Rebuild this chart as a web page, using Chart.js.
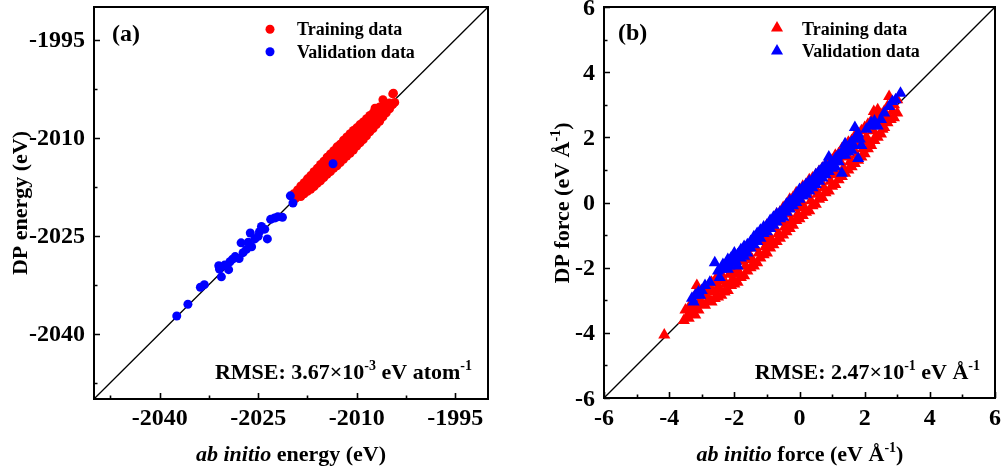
<!DOCTYPE html>
<html><head><meta charset="utf-8">
<script src="https://cdn.jsdelivr.net/npm/chart.js@4/dist/chart.umd.min.js"></script>
<style>
body{margin:0;background:#fff;width:1002px;height:474px;overflow:hidden;position:relative}
canvas{position:absolute;top:0}
#c1{left:0}
#c2{left:500px}
</style></head><body>
<canvas id="c1" width="500" height="474"></canvas>
<canvas id="c2" width="502" height="474"></canvas>
<script>
// ---------- data ----------
const energyRange = [-2050, -1990];
const energyTicks = [-2040, -2025, -2010, -1995];
const energyMinorTicks = [-2047.5, -2032.5, -2017.5, -2002.5];
const forceRange = [-6, 6];
const forceTicks = [-6, -4, -2, 0, 2, 4, 6];
const forceMinorTicks = [-5, -3, -1, 1, 3, 5];
const seriesNames = ['Training data', 'Validation data'];

// [ab initio energy, DP energy] (eV)
const energyTraining = [
[-2019.6,-2018.6],[-2019.5,-2018.7],[-2019.5,-2019.4],[-2019.3,-2019.3],[-2019.0,-2018.0],[-2019.0,-2018.9],
[-2018.5,-2017.4],[-2018.5,-2018.3],[-2018.5,-2019.0],[-2018.0,-2016.9],[-2018.0,-2017.9],[-2018.0,-2018.6],
[-2017.5,-2016.3],[-2017.5,-2017.4],[-2017.5,-2018.2],[-2017.0,-2015.8],[-2017.0,-2016.9],[-2017.0,-2017.9],
[-2016.5,-2015.2],[-2016.5,-2016.4],[-2016.5,-2017.5],[-2016.0,-2014.7],[-2016.0,-2015.9],[-2016.0,-2017.0],
[-2015.5,-2014.1],[-2015.5,-2015.4],[-2015.5,-2016.6],[-2015.0,-2013.6],[-2015.0,-2014.8],[-2015.0,-2016.1],
[-2014.5,-2013.0],[-2014.5,-2014.4],[-2014.5,-2015.6],[-2014.0,-2012.5],[-2014.0,-2013.8],[-2014.0,-2015.2],
[-2013.5,-2012.0],[-2013.5,-2013.4],[-2013.5,-2014.7],[-2013.0,-2011.4],[-2013.0,-2012.9],[-2013.0,-2014.3],
[-2012.5,-2011.0],[-2012.5,-2012.4],[-2012.5,-2013.8],[-2012.0,-2010.4],[-2012.0,-2011.8],[-2012.0,-2013.3],
[-2011.5,-2009.9],[-2011.5,-2011.4],[-2011.5,-2012.8],[-2011.0,-2009.4],[-2011.0,-2010.9],[-2011.0,-2012.4],
[-2010.5,-2008.9],[-2010.5,-2010.4],[-2010.5,-2011.9],[-2010.0,-2008.5],[-2010.0,-2009.9],[-2010.0,-2011.3],
[-2009.5,-2008.0],[-2009.5,-2009.4],[-2009.5,-2010.8],[-2009.0,-2007.6],[-2009.0,-2008.9],[-2009.0,-2010.3],
[-2008.5,-2007.1],[-2008.5,-2008.4],[-2008.5,-2009.7],[-2008.0,-2006.6],[-2008.0,-2007.9],[-2008.0,-2009.1],
[-2007.5,-2006.2],[-2007.5,-2007.4],[-2007.5,-2008.6],[-2007.2,-2005.5],[-2007.0,-2005.6],[-2007.0,-2006.9],
[-2007.0,-2008.0],[-2006.5,-2005.3],[-2006.5,-2006.5],[-2006.5,-2007.5],[-2006.0,-2004.2],[-2006.0,-2005.8],
[-2006.0,-2006.8],[-2005.5,-2005.0],[-2005.5,-2006.2],[-2005.0,-2004.7],[-2005.0,-2005.6],[-2004.7,-2005.0],
[-2004.5,-2003.3],[-2004.4,-2003.2],[-2004.5,-2004.9],[-2004.2,-2004.6],
[-2016.4,-2016.7],[-2014.8,-2015.7],[-2013.3,-2013.1],[-2011.8,-2012.1],[-2010.0,-2010.1],[-2008.0,-2008.5]
];
const energyValidation = [
[-2037.4,-2037.3],[-2035.7,-2035.5],[-2033.8,-2032.9],[-2033.2,-2032.5],[-2031.0,-2029.6],[-2030.9,-2030.1],[-2030.6,-2031.3],
[-2030.1,-2029.5],[-2029.5,-2030.2],[-2029.3,-2029.0],[-2028.9,-2028.6],[-2028.5,-2028.2],[-2027.9,-2028.5],[-2027.6,-2026.1],
[-2027.3,-2027.6],[-2026.8,-2027.1],[-2026.5,-2026.0],[-2026.2,-2024.6],[-2026.0,-2026.7],[-2025.5,-2025.5],[-2025.0,-2025.1],
[-2024.8,-2024.4],[-2024.5,-2023.6],[-2024.0,-2024.0],[-2023.6,-2025.5],[-2023.1,-2022.5],[-2022.5,-2022.3],[-2022.0,-2022.1],
[-2021.3,-2022.2],[-2020.1,-2018.9],[-2019.7,-2020.0],[-2013.6,-2014.0]
];

// [ab initio force, DP force] (eV/Å)
const forceTraining = [
[-4.15,-4.07],[-3.55,-3.62],[-3.50,-3.30],[-3.40,-3.55],[-3.40,-3.25],[-3.30,-3.40],[-3.30,-3.05],[-3.20,-3.45],[-3.20,-2.85],
[-3.15,-2.55],[-3.10,-3.30],[-3.10,-2.70],[-3.00,-3.10],[-3.00,-2.85],[-2.90,-3.15],[-2.90,-2.70],[-2.80,-3.00],[-2.80,-2.55],
[-2.70,-3.05],[-2.70,-2.45],[-2.60,-2.95],[-2.60,-2.40],[-2.50,-2.90],[-2.50,-2.60],[-2.50,-2.25],[-2.40,-2.85],[-2.40,-2.20],
[-2.30,-2.75],[-2.30,-2.05],[-2.20,-2.70],[-2.20,-1.95],[-2.10,-2.55],[-2.10,-1.85],[-2.00,-2.50],[-2.00,-2.20],[-2.00,-1.80],
[-1.90,-2.45],[-1.90,-1.65],[-1.80,-2.30],[-1.80,-1.55],[-1.70,-2.25],[-1.70,-1.45],[-1.60,-2.10],[-1.60,-1.40],[-1.50,-2.00],
[-1.50,-1.70],[-1.50,-1.25],[-1.40,-1.95],[-1.40,-1.10],[-1.30,-1.85],[-1.30,-1.05],[-1.20,-1.70],[-1.20,-0.90],[-1.10,-1.60],
[-1.10,-0.85],[-1.00,-1.55],[-1.00,-1.20],[-1.00,-0.70],[-0.90,-1.40],[-0.90,-0.60],[-0.80,-1.30],[-0.80,-0.50],[-0.70,-1.20],
[-0.70,-0.35],[-0.60,-1.10],[-0.60,-0.30],[-0.50,-1.00],[-0.50,-0.60],[-0.50,-0.15],[-0.40,-0.90],[-0.40,-0.05],[-0.30,-0.80],
[-0.30,0.10],[-0.20,-0.70],[-0.20,0.15],[-0.10,-0.55],[-0.10,0.30],[0.00,-0.50],[0.00,-0.10],[0.00,0.35],[0.10,-0.40],
[0.10,0.50],[0.20,-0.30],[0.20,0.55],[0.30,-0.25],[0.30,0.70],[0.40,-0.10],[0.40,0.75],[0.50,-0.05],[0.50,0.40],[0.50,0.85],
[0.60,0.10],[0.60,0.95],[0.70,0.15],[0.70,1.05],[0.80,0.30],[0.80,1.15],[0.90,0.35],[0.90,1.25],[1.00,0.50],[1.00,0.90],
[1.00,1.30],[1.10,0.55],[1.10,1.45],[1.20,0.70],[1.20,1.50],[1.30,0.80],[1.30,1.65],[1.40,0.90],[1.40,1.70],[1.50,1.00],
[1.50,1.40],[1.50,1.85],[1.60,1.10],[1.60,1.90],[1.70,1.20],[1.70,2.05],[1.80,1.30],[1.80,2.10],[1.90,1.40],[1.90,2.20],
[2.00,1.50],[2.00,1.90],[2.00,2.30],[2.10,1.65],[2.10,2.40],[2.20,1.75],[2.20,2.50],[2.30,1.90],[2.30,2.65],[2.28,2.79],
[2.40,2.00],[2.40,2.85],[2.50,2.10],[2.50,2.70],[2.60,2.30],[2.60,2.80],[2.70,2.45],[2.70,2.95],[2.75,3.25],[2.80,2.55],
[2.90,2.60],[2.90,3.00],[3.00,2.75],[3.00,3.15],
[-3.45,-3.50],[-3.25,-3.20],[-3.05,-3.00],[-2.85,-2.85],[-2.75,-2.70],[-2.65,-2.75],[-2.55,-2.45],[-2.45,-2.65],[-2.35,-2.40],
[-2.25,-2.50],[-2.15,-2.20],[-2.05,-2.35],[-1.95,-2.00],[-1.85,-2.15],[-1.75,-1.80],[-1.65,-1.95],[-1.55,-1.60],[-1.45,-1.75],
[-1.35,-1.40],[-1.25,-1.55],[-1.15,-1.20],[-1.05,-1.35],[-0.95,-1.00],[-0.85,-1.15],[-0.75,-0.80],[-0.65,-0.95],[-0.55,-0.55],
[-0.45,-0.75],[-0.35,-0.35],[-0.25,-0.55],[-0.15,-0.15],[-0.05,-0.35],[0.05,0.05],[0.15,-0.15],[0.25,0.25],[0.35,0.05],
[0.45,0.45],[0.55,0.25],[0.65,0.65],[0.75,0.45],[0.85,0.85],[0.95,0.65],[1.05,1.05],[1.15,0.85],[1.25,1.25],[1.35,1.05],
[1.45,1.45],[1.55,1.25],[1.65,1.65],[1.75,1.45],[1.85,1.80],[1.95,1.65],[2.05,2.00],[2.15,1.85],[2.25,2.20],[2.35,2.05],
[2.45,2.40],[2.55,2.25],[2.65,2.60],[2.85,2.80]
];
const forceValidation = [
[-3.30,-2.94],[-3.20,-2.85],[-3.10,-2.75],[-3.00,-2.70],[-2.90,-2.55],[-2.60,-1.85],[-2.50,-2.10],[-2.40,-2.05],[-2.30,-1.95],
[-2.20,-1.75],[-2.20,-2.05],[-2.10,-1.70],[-2.00,-1.55],[-2.00,-1.85],[-1.90,-1.60],[-1.90,-1.95],[-1.80,-1.45],[-1.80,-1.70],
[-1.70,-1.35],[-1.70,-1.65],[-1.60,-1.30],[-1.60,-1.55],[-1.50,-1.20],[-1.50,-1.40],[-1.40,-1.05],[-1.40,-1.30],[-1.30,-0.95],
[-1.30,-1.20],[-1.20,-0.85],[-1.20,-1.10],[-1.10,-0.75],[-1.10,-0.95],[-1.00,-0.70],[-1.00,-0.90],[-0.90,-0.55],[-0.90,-0.80],
[-0.80,-0.45],[-0.80,-0.70],[-0.70,-0.35],[-0.70,-0.60],[-0.60,-0.30],[-0.60,-0.50],[-0.50,-0.20],[-0.50,-0.45],[-0.40,-0.05],
[-0.40,-0.30],[-0.30,0.05],[-0.30,-0.20],[-0.20,0.10],[-0.20,-0.10],[-0.10,0.25],[-0.10,0.00],[0.00,0.40],[0.00,0.10],
[0.10,0.45],[0.10,0.20],[0.20,0.55],[0.20,0.25],[0.30,0.65],[0.30,0.35],[0.40,0.70],[0.40,0.45],[0.50,0.85],[0.50,0.55],
[0.60,0.95],[0.60,0.65],[0.70,1.05],[0.70,0.75],[0.80,1.15],[0.80,0.85],[0.90,1.40],[0.90,0.95],[1.00,1.20],[1.00,1.05],
[1.10,1.35],[1.10,1.10],[1.20,1.45],[1.20,1.25],[1.30,0.90],[1.30,1.55],[1.40,1.80],[1.40,1.45],[1.50,1.70],[1.50,1.55],
[1.60,1.85],[1.60,1.60],[1.70,2.30],[1.70,1.95],[1.80,2.10],[1.80,1.35],[1.90,1.75],[2.20,2.45],[2.30,2.50],[2.40,2.35],
[2.60,2.75],[2.85,3.10],[2.95,3.15],[3.10,3.35],
[-3.25,-3.05],[-3.05,-2.85],[-2.75,-2.45],[-2.45,-2.30],[-2.35,-1.90],[-2.15,-1.95],[-2.05,-1.75],[-1.95,-1.80],[-1.85,-1.55],
[-1.75,-1.55],[-1.65,-1.40],[-1.55,-1.35],[-1.45,-1.20],[-1.35,-1.15],[-1.25,-1.05],[-1.15,-0.95],[-1.05,-0.85],[-0.95,-0.70],
[-0.85,-0.65],[-0.75,-0.55],[-0.65,-0.40],[-0.55,-0.35],[-0.45,-0.20],[-0.35,-0.15],[-0.25,0.00],[-0.15,0.05],[-0.05,0.20],
[0.05,0.25],[0.15,0.40],[0.25,0.45],[0.35,0.55],[0.45,0.65],[0.55,0.75],[0.65,0.85],[0.75,0.95],[0.85,1.05],[0.95,1.20],
[1.05,1.25],[1.15,1.40],[1.25,1.45],[1.35,1.55],[1.45,1.65],[1.55,1.80],[1.65,1.75],[1.75,2.05],[1.85,1.95],[2.05,2.25],
[2.25,2.35],[2.50,2.55],[2.75,2.95]
];

// ---------- helpers ----------
const SERIF = '"Liberation Serif", "Times New Roman", serif';
function font(size, italic) { return (italic ? 'italic ' : '') + 'bold ' + size + 'px ' + SERIF; }
function runsWidth(ctx, runs, size) {
  let w = 0;
  runs.forEach(r => { ctx.font = r.sup ? font(Math.round(size * 0.64)) : font(size, r.it); w += ctx.measureText(r.t).width; });
  return w;
}
function drawRuns(ctx, runs, x, y, align, size) {
  const w = runsWidth(ctx, runs, size);
  let cx = align === 'center' ? x - w / 2 : align === 'right' ? x - w : x;
  ctx.textAlign = 'left'; ctx.textBaseline = 'alphabetic'; ctx.fillStyle = '#000';
  runs.forEach(r => {
    ctx.font = r.sup ? font(Math.round(size * 0.64)) : font(size, r.it);
    ctx.fillText(r.t, cx, r.sup ? y - size * 0.42 : y);
    cx += ctx.measureText(r.t).width;
  });
}
function marker(ctx, style, color, x, y, r) {
  ctx.fillStyle = color; ctx.beginPath();
  if (style === 'triangle') {
    ctx.moveTo(x, y - r);
    ctx.lineTo(x + r * Math.sin(2 * Math.PI / 3), y - r * Math.cos(2 * Math.PI / 3));
    ctx.lineTo(x + r * Math.sin(4 * Math.PI / 3), y - r * Math.cos(4 * Math.PI / 3));
    ctx.closePath();
  } else {
    ctx.arc(x, y, r, 0, Math.PI * 2);
  }
  ctx.fill();
}

const decorPlugin = {
  id: 'decor',
  afterDraw(chart, args, o) {
    const { ctx, chartArea: a, scales: { x, y } } = chart;
    ctx.save();
    ctx.strokeStyle = '#000'; ctx.lineWidth = 1.6;
    ctx.beginPath();
    o.majorX.forEach(v => { const p = Math.round(x.getPixelForValue(v)) + 0.5; ctx.moveTo(p, a.bottom); ctx.lineTo(p, a.bottom - 6); });
    o.minorX.forEach(v => { const p = Math.round(x.getPixelForValue(v)) + 0.5; ctx.moveTo(p, a.bottom); ctx.lineTo(p, a.bottom - 3.5); });
    o.majorY.forEach(v => { const p = Math.round(y.getPixelForValue(v)) + 0.5; ctx.moveTo(a.left, p); ctx.lineTo(a.left + 6, p); });
    o.minorY.forEach(v => { const p = Math.round(y.getPixelForValue(v)) + 0.5; ctx.moveTo(a.left, p); ctx.lineTo(a.left + 3.5, p); });
    ctx.stroke();
    ctx.lineWidth = 2;
    ctx.strokeRect(a.left, a.top, a.right - a.left, a.bottom - a.top);
    // tick labels
    ctx.fillStyle = '#000'; ctx.font = font(24); ctx.textBaseline = 'alphabetic';
    ctx.textAlign = 'center';
    o.majorX.forEach(v => ctx.fillText(String(v), x.getPixelForValue(v), o.xLabelBase));
    ctx.textAlign = 'right';
    o.majorY.forEach(v => ctx.fillText(String(v), o.yLabelRight, y.getPixelForValue(v) + 7.5));
    // axis titles
    drawRuns(ctx, o.xTitle, o.xTitlePos[0], o.xTitlePos[1], 'center', 22);
    ctx.save(); ctx.translate(o.yTitlePos[0], o.yTitlePos[1]); ctx.rotate(-Math.PI / 2);
    drawRuns(ctx, o.yTitle, 0, 0, 'center', 22); ctx.restore();
    // panel label
    drawRuns(ctx, [{ t: o.panel }], o.panelPos[0], o.panelPos[1], 'left', 24);
    // legend
    chart.data.datasets.filter(d => d.inLegend).sort((p, q) => p.legendIdx - q.legendIdx).forEach((d, i) => {
      marker(ctx, o.markerStyle, d.backgroundColor, o.legend.mx, o.legend.my[i], d.pointRadius);
      drawRuns(ctx, [{ t: d.label }], o.legend.tx, o.legend.ty[i], 'left', 18);
    });
    // RMSE
    drawRuns(ctx, o.rmse, o.rmsePos[0], o.rmsePos[1], 'right', 22);
    ctx.restore();
  }
};

function toPts(arr) { return arr.map(p => ({ x: p[0], y: p[1] })); }

function makeChart(id, cfg) {
  return new Chart(document.getElementById(id), {
    type: 'scatter',
    data: {
      datasets: [
        { label: seriesNames[1], data: toPts(cfg.val), backgroundColor: '#0000ff', borderWidth: 0,
          pointStyle: cfg.style, pointRadius: cfg.radius, order: 0, inLegend: true, legendIdx: 1 },
        { label: seriesNames[0], data: toPts(cfg.train), backgroundColor: '#ff0000', borderWidth: 0,
          pointStyle: cfg.style, pointRadius: cfg.radius, order: 1, inLegend: true, legendIdx: 0 },
        { label: 'y = x', data: [{ x: cfg.range[0], y: cfg.range[0] }, { x: cfg.range[1], y: cfg.range[1] }],
          showLine: true, borderColor: '#000', borderWidth: 1.3, pointRadius: 0, order: 2 }
      ]
    },
    options: {
      responsive: false, animation: false, devicePixelRatio: 1,
      layout: { padding: cfg.padding },
      plugins: { legend: { display: false }, tooltip: { enabled: false }, decor: cfg.decor },
      scales: {
        x: { type: 'linear', min: cfg.range[0], max: cfg.range[1], display: false },
        y: { type: 'linear', min: cfg.range[0], max: cfg.range[1], display: false }
      }
    },
    plugins: [decorPlugin]
  });
}

makeChart('c1', {
  train: energyTraining, val: energyValidation, style: 'circle', radius: 4.5, range: energyRange,
  padding: { left: 94, right: 12, top: 7, bottom: 75 },
  decor: {
    majorX: energyTicks, minorX: energyMinorTicks, majorY: energyTicks, minorY: energyMinorTicks,
    xLabelBase: 425, yLabelRight: 85,
    xTitle: [{ t: 'ab initio', it: true }, { t: ' energy (eV)' }], xTitlePos: [291, 461],
    yTitle: [{ t: 'DP energy (eV)' }], yTitlePos: [27, 203],
    panel: '(a)', panelPos: [112, 41],
    markerStyle: 'circle', legend: { mx: 270, my: [29.3, 51.7], tx: 297, ty: [35, 57.5] },
    rmse: [{ t: 'RMSE: 3.67\u00d710' }, { t: '-3', sup: true }, { t: ' eV atom' }, { t: '-1', sup: true }],
    rmsePos: [472, 379]
  }
});

makeChart('c2', {
  train: forceTraining, val: forceValidation, style: 'triangle', radius: 7, range: forceRange,
  padding: { left: 104, right: 3, top: 7, bottom: 76 },
  decor: {
    majorX: forceTicks, minorX: forceMinorTicks, majorY: forceTicks, minorY: forceMinorTicks,
    xLabelBase: 425, yLabelRight: 95,
    xTitle: [{ t: 'ab initio', it: true }, { t: ' force (eV \u00c5' }, { t: '-1', sup: true }, { t: ')' }], xTitlePos: [300, 461],
    yTitle: [{ t: 'DP force (eV \u00c5' }, { t: '-1', sup: true }, { t: ')' }], yTitlePos: [69, 203],
    panel: '(b)', panelPos: [118, 40],
    markerStyle: 'triangle', legend: { mx: 277, my: [28, 51], tx: 302, ty: [34.5, 57] },
    rmse: [{ t: 'RMSE: 2.47\u00d710' }, { t: '-1', sup: true }, { t: ' eV \u00c5' }, { t: '-1', sup: true }],
    rmsePos: [480, 379]
  }
});
</script>
</body></html>
